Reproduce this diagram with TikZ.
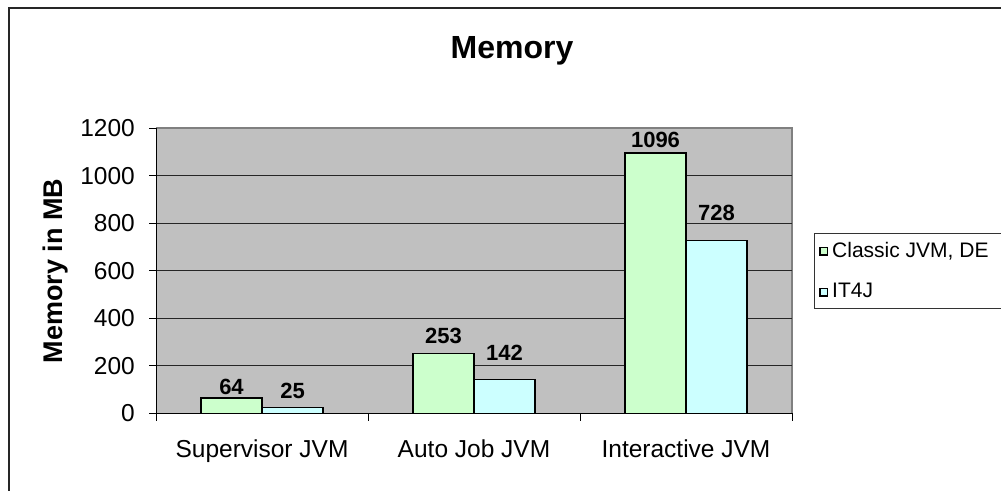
\documentclass[tikz,border=0pt]{standalone}
\usepackage{fontspec}
\setmainfont{Liberation Sans}
\definecolor{plotgray}{HTML}{C0C0C0}
\definecolor{bargreen}{HTML}{CCFFCC}
\definecolor{barcyan}{HTML}{CCFFFF}
\newcommand{\axisfont}{\fontsize{24.5}{28}\selectfont}
\newcommand{\valfont}{\fontsize{22}{26}\selectfont\bfseries}
\newcommand{\keyfont}{\fontsize{21}{24}\selectfont}
\tikzset{bar/.style={draw=black, line width=1.4pt, fill=#1}}
\tikzset{gridline/.style={draw=black!85, line width=1.1pt}}
\tikzset{tick/.style={draw=black, line width=1pt}}

\begin{document}
\begin{tikzpicture}[x=1pt,y=-1pt]
        \clip (0,0) rectangle (1001,490);
        \fill [white] (0,0) rectangle (1001,490);
        % chart frame, cut off at the right and bottom
        \draw [line width=1.5pt, black!85] (9,8) rectangle (1030,520);
        \node (title) [anchor=base, font=\fontsize{32}{36}\selectfont\bfseries] at (512,58.3) {Memory};
        % plot area
        \fill [plotgray] (156,128) rectangle (792,413.3);
        \draw [line width=2pt, black!50] (156,128) -- (792,128) -- (792,413.3);
        \foreach \v in {200,400,...,1000}
            \draw [gridline] (156,{413.3-\v*0.2375}) -- (792,{413.3-\v*0.2375});
        \draw [tick] (156,128) -- (156,420.7);
        \draw [tick] (156,413.3) -- (792,413.3);
        \foreach \v in {0,200,...,1200} {
            \draw [tick] (149,{413.3-\v*0.2375}) -- (156,{413.3-\v*0.2375});
            \node (ytick\v) [anchor=east, inner sep=0pt, font=\axisfont] at (135,{413.3-\v*0.2375}) {\v};
        }
        \node (ylabel) [anchor=base, rotate=90, font=\fontsize{27}{30}\selectfont\bfseries] at (62,271) {Memory in MB};
        % bars, one group per JVM
        \foreach \i/\name/\gv/\bv/\gy/\by in {0/Supervisor JVM/64/25/387/391,
                1/Auto Job JVM/253/142/335.5/352.5,
                2/Interactive JVM/1096/728/139.5/212.5} {
            \pgfmathsetmacro{\xl}{156+212*\i}
            \draw [tick] ({\xl+212},413.3) -- ({\xl+212},420.7);
            \draw [bar=bargreen] ({\xl+45},413.3) rectangle ({\xl+106},{413.3-\gv*0.2375});
            \draw [bar=barcyan] ({\xl+106},413.3) rectangle ({\xl+167},{413.3-\bv*0.2375});
            \node (gval\i) [inner sep=0pt, font=\valfont] at ({\xl+75.5},\gy) {\gv};
            \node (bval\i) [inner sep=0pt, font=\valfont] at ({\xl+136.5},\by) {\bv};
            \node (cat\i) [anchor=base, font=\axisfont] at ({\xl+106},457.3) {\name};
        }
        % legend
        \draw [line width=1pt, black!80] (814,233) rectangle (1030,308);
        \draw [bar=bargreen, line width=1.2pt] (820,247.5) rectangle (827.5,255);
        \node (key1) [anchor=base west, inner sep=0pt, font=\keyfont] at (832,257) {Classic JVM, DE};
        \draw [bar=barcyan, line width=1.2pt] (820,288.5) rectangle (827.5,296);
        \node (key2) [anchor=base west, inner sep=0pt, font=\keyfont] at (832,297) {IT4J};
\end{tikzpicture}
\end{document}
